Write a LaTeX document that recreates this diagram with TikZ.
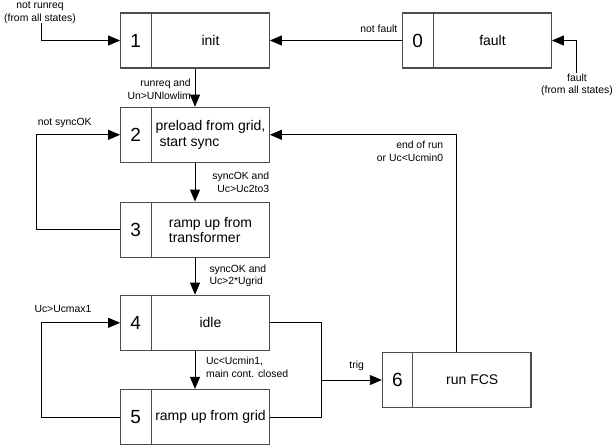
\documentclass[tikz,border=0pt]{standalone}
\usepackage{fontspec}
\setmainfont{Liberation Sans}
\usetikzlibrary{arrows.meta}
\newcommand\statebox[4]{%
  \node[stbox] (#1) at (#2) {};
  \draw[divline] ([xshift=31pt]#1.north west) -- ([xshift=31pt]#1.south west);
  \node[num] (#1n) at ([xshift=15.5pt]#1.west) {#3};
  \node[txt] (#1t) at ([xshift=15.5pt]#1.center) {#4};
}
\begin{document}
\begin{tikzpicture}[x=1pt,y=-1pt,
  stbox/.style={draw=black!70, line width=1.2pt, minimum width=148.6pt, minimum height=55pt, inner sep=0pt},
  divline/.style={draw=black!70, line width=1.2pt},
  num/.style={font=\fontsize{19}{19}\selectfont, inner sep=0pt},
  txt/.style={font=\fontsize{14}{15.3}\selectfont, align=left, inner sep=0pt},
  lbl/.style={font=\fontsize{10.4}{12.6}\selectfont, inner sep=0pt},
  conn/.style={line width=0.9pt},
  arr/.style={conn, -{Triangle[length=12pt,width=10pt]}}]
\useasboundingbox (0,0) rectangle (616,445);

\statebox{b1}{195,40.5}{1}{init}
\statebox{b0}{477,40.5}{0}{fault}
\statebox{b2}{195,134.8}{2}{preload from grid,\\\ start sync}
\statebox{b3}{195,229.7}{3}{ramp up from\\transformer}
\statebox{b4}{195,322.8}{4}{idle}
\statebox{b5}{195,417}{5}{ramp up from grid}
\statebox{b6}{456.7,380}{6}{run FCS}

% free ends / corners
\coordinate (nr) at (41,23);
\coordinate (fl) at (576,73);
\coordinate (l23) at (36.7,229.7);
\coordinate (l54) at (41.7,417);
\coordinate (r4) at (321.7,322.8);
\coordinate (r5) at (321.7,417);
\coordinate (jn) at (321.7,380);
\coordinate (up6) at (456.7,134.8);

\draw[arr] (nr) |- (b1.west);
\draw[arr] (fl) |- (b0.east);
\draw[arr] (b0.west) -- (b1.east);
\draw[arr] (b1.south) -- (b2.north);
\draw[arr] (b3.west) -- (l23) |- (b2.west);
\draw[arr] (b2.south) -- (b3.north);
\draw[arr] (b3.south) -- (b4.north);
\draw[arr] (b5.west) -- (l54) |- (b4.west);
\draw[arr] (b4.south) -- (b5.north);
\draw[conn] (b4.east) -- (r4) -- (r5) -- (b5.east);
\draw[arr] (jn) -- (b6.west);
\draw[arr] (b6.north) -- (up6) -- (b2.east);

% labels
\node[lbl, align=center] (lnr) at (40,13) {not runreq\\(from all states)};
\node[lbl, align=center] (lfl) at (577,85) {fault\\(from all states)};
\node[lbl, anchor=east] (lnf) at (397.5,28.5) {not fault};
\node[lbl, align=right, anchor=east] (l12) at (191,89.2) {runreq and\\Un>UNlowlim};
\node[lbl, anchor=west] (lns) at (37.7,123.3) {not syncOK};
\node[lbl, align=right, anchor=east] (l23t) at (269.3,182) {syncOK and\\Uc>Uc2to3};
\node[lbl, align=left, anchor=west] (l34) at (209.3,276) {syncOK and\\Uc>2*Ugrid};
\node[lbl, anchor=west] (lum) at (34.3,309.3) {Uc>Ucmax1};
\node[lbl, align=left, anchor=west] (l45) at (206,367.5) {Uc<Ucmin1,\\main cont. closed};
\node[lbl] (ltr) at (356.7,365.7) {trig};
\node[lbl, align=right, anchor=east] (leor) at (443.3,151.3) {end of run\\or Uc<Ucmin0};
\end{tikzpicture}
\end{document}
